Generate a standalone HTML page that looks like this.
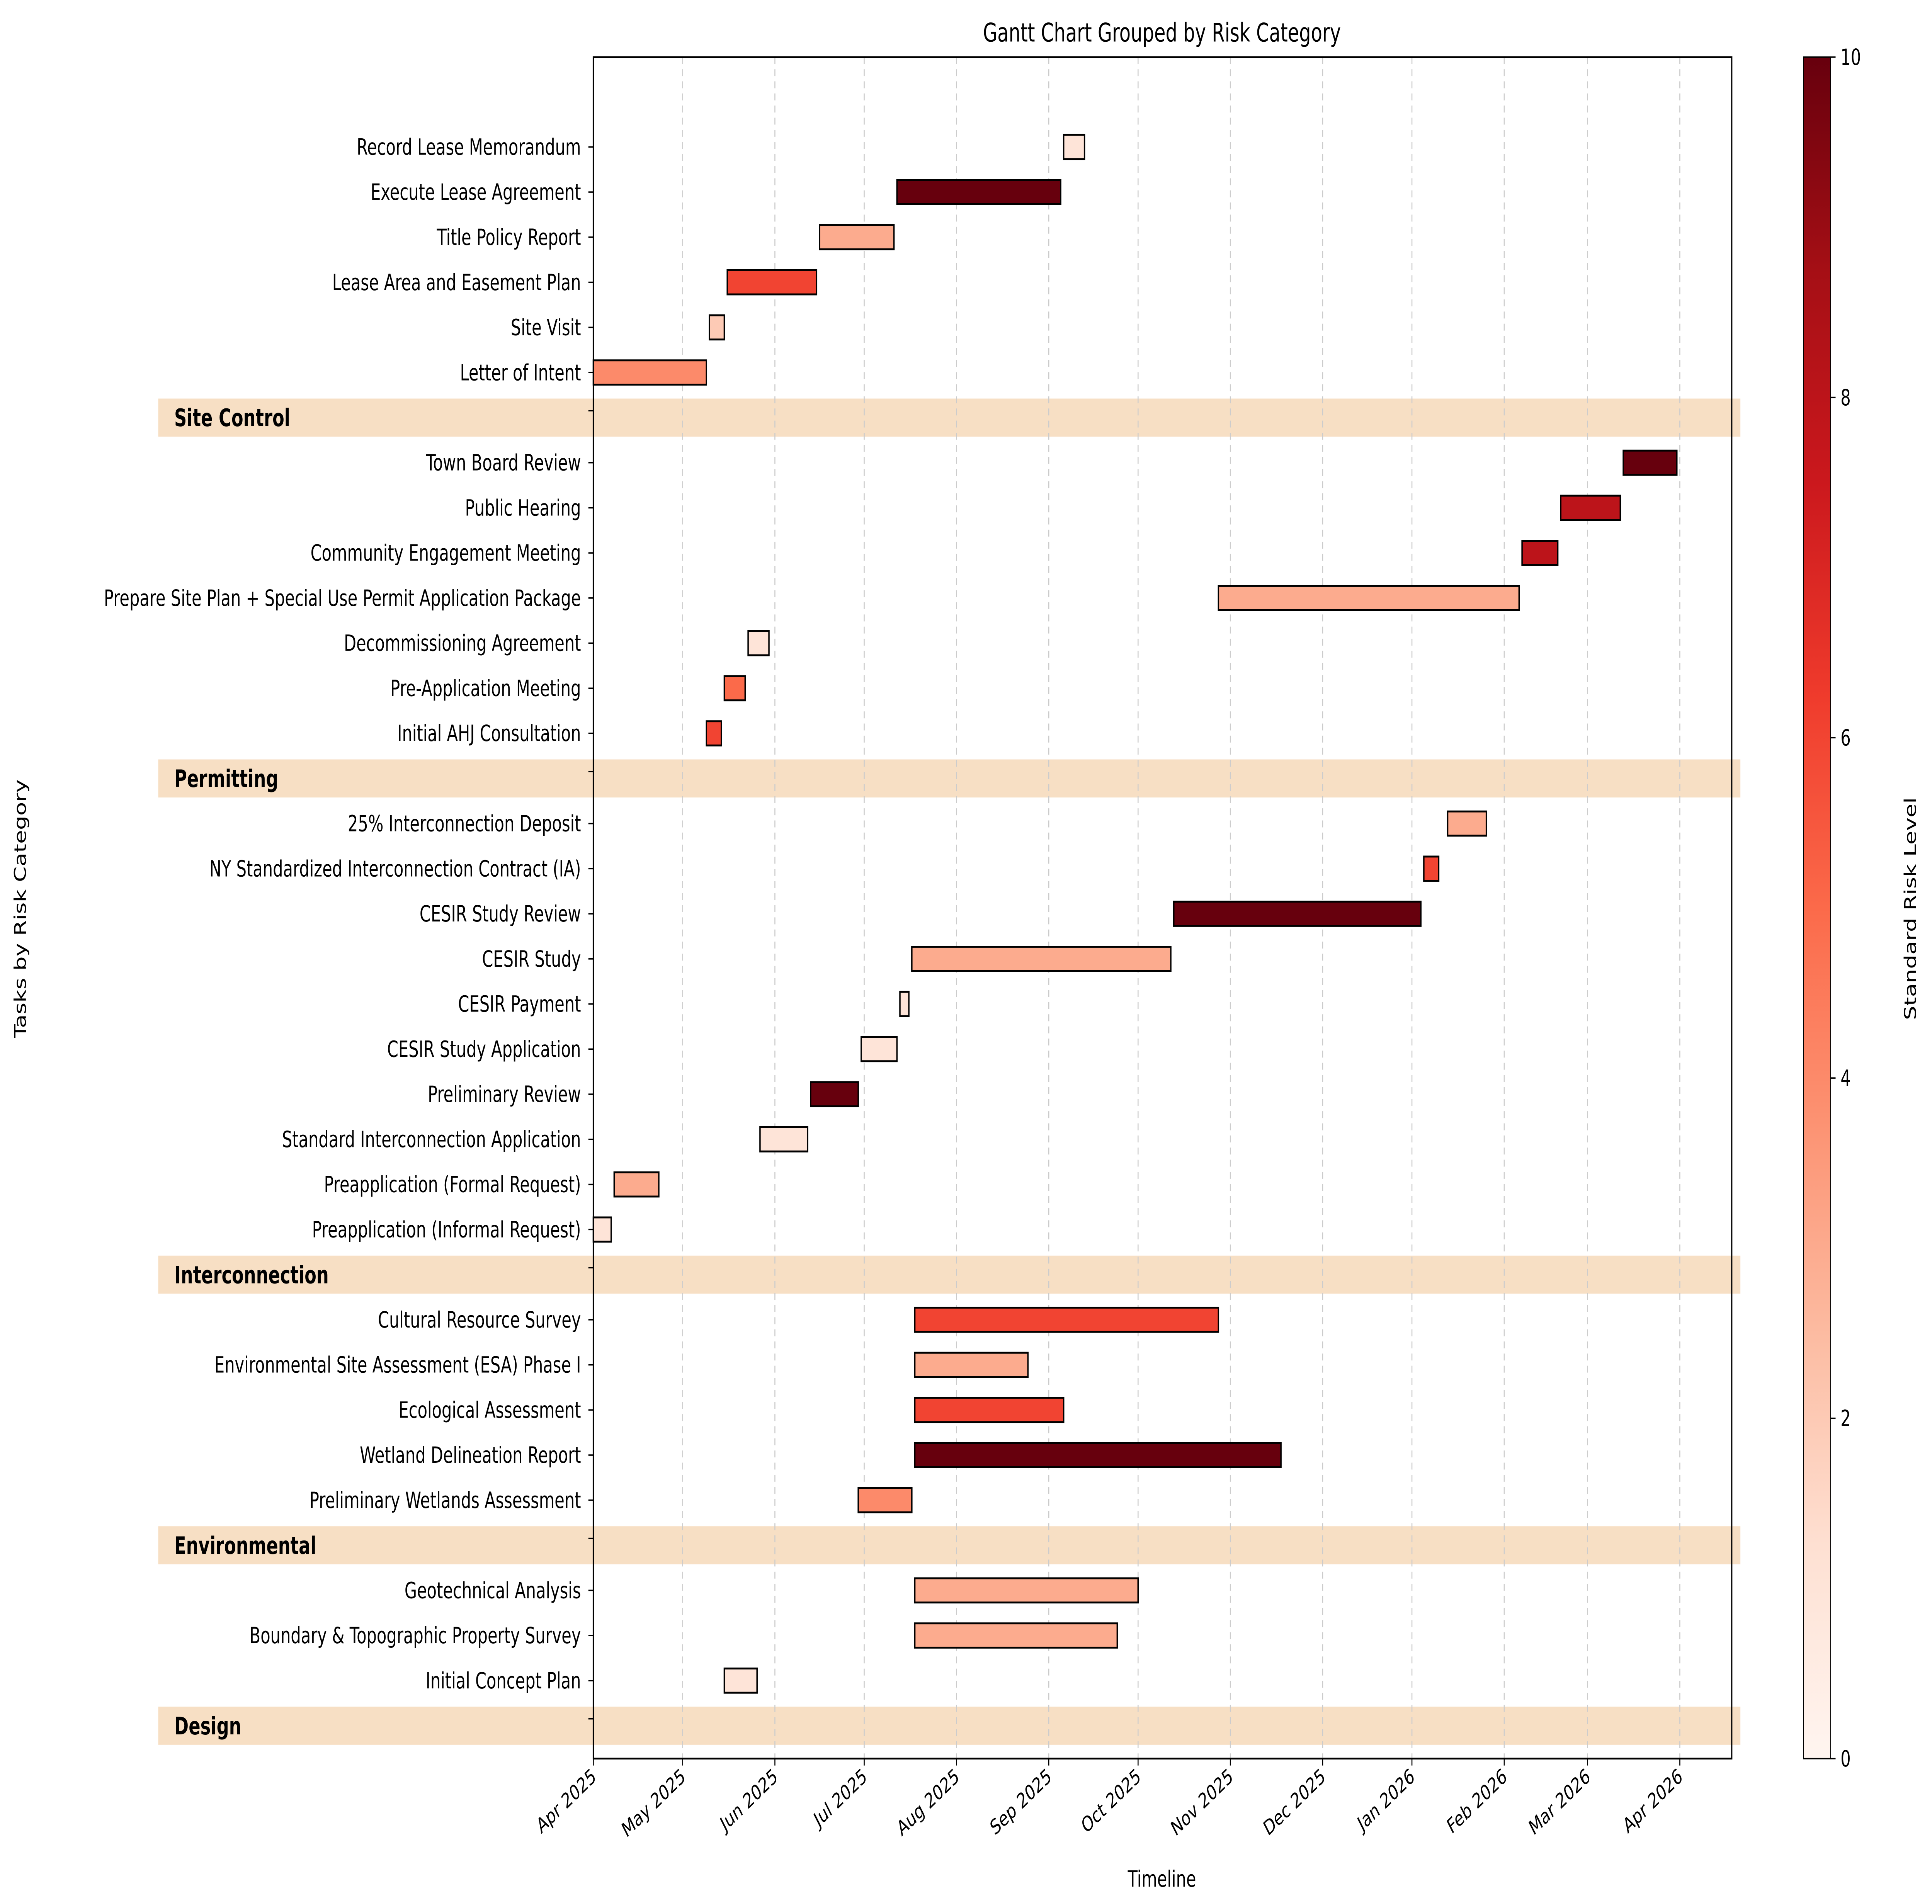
<!DOCTYPE html>
<html><head><meta charset="utf-8"><style>
html,body{margin:0;padding:0;background:#fff;width:100%;height:100%;overflow:hidden;}
svg{display:block;position:absolute;left:0;top:0;width:100vw;height:100vh;font-family:"DejaVu Sans","Liberation Sans",sans-serif;}
</style></head><body>
<svg id="chart" viewBox="0 0 1563 1100" preserveAspectRatio="none" xmlns="http://www.w3.org/2000/svg">
<defs>
<linearGradient id="reds" x1="0" y1="1" x2="0" y2="0">
<stop offset="0" stop-color="#fff5f0"/><stop offset="0.125" stop-color="#fee0d2"/><stop offset="0.25" stop-color="#fcbba1"/><stop offset="0.375" stop-color="#fc9272"/><stop offset="0.5" stop-color="#fb6a4a"/><stop offset="0.625" stop-color="#ef3b2c"/><stop offset="0.75" stop-color="#cb181d"/><stop offset="0.875" stop-color="#a50f15"/><stop offset="1" stop-color="#67000d"/>
</linearGradient>
</defs>
<rect width="1563" height="1100" fill="#fff"/>
<g id="bands"></g>
<g id="grid"></g>
<g id="bars"></g>
<rect x="480" y="33" width="921" height="983" fill="none" stroke="#000" stroke-width="1"/>
<g id="yaxis"></g>
<g id="xaxis"></g>
<text x="940" y="24" font-size="15" text-anchor="middle">Gantt Chart Grouped by Risk Category</text>
<text x="940" y="1090" font-size="13" text-anchor="middle">Timeline</text>
<text transform="translate(21,525) rotate(-90)" font-size="13" text-anchor="middle">Tasks by Risk Category</text>
<rect x="1459" y="33" width="22" height="983" fill="url(#reds)" stroke="#000" stroke-width="0.8"/>
<g id="cbar"></g>
<text transform="translate(1550,525) rotate(-90)" font-size="13" text-anchor="middle">Standard Risk Level</text>
</svg>
<script>
const categories = ["Design","Environmental","Interconnection","Permitting","Site Control"];
const taskNames = [
["Initial Concept Plan","Boundary & Topographic Property Survey","Geotechnical Analysis"],
["Preliminary Wetlands Assessment","Wetland Delineation Report","Ecological Assessment","Environmental Site Assessment (ESA) Phase I","Cultural Resource Survey"],
["Preapplication (Informal Request)","Preapplication (Formal Request)","Standard Interconnection Application","Preliminary Review","CESIR Study Application","CESIR Payment","CESIR Study","CESIR Study Review","NY Standardized Interconnection Contract (IA)","25% Interconnection Deposit"],
["Initial AHJ Consultation","Pre-Application Meeting","Decommissioning Agreement","Prepare Site Plan + Special Use Permit Application Package","Community Engagement Meeting","Public Hearing","Town Board Review"],
["Letter of Intent","Site Visit","Lease Area and Easement Plan","Title Policy Report","Execute Lease Agreement","Record Lease Memorandum"]
];
// start/end in days after Apr 1 2025
const startDays = [
[44,108,108],
[89,108,108,108,108],
[0,7,56,73,90,103,107,195,279,287],
[38,44,52,210,312,325,346],
[0,39,45,76,102,158]
];
const endDays = [
[55,176,183],
[107,231,158,146,210],
[6,22,72,89,102,106,194,278,284,300],
[43,51,59,311,324,345,364],
[38,44,75,101,157,165]
];
const riskLevels = [
[1,3,3],
[4,10,6,3,6],
[1,3,1,10,1,1,3,10,6,3],
[6,5,1,3,8,8,10],
[4,2,6,3,10,1]
];
const monthLabels = ["Apr 2025","May 2025","Jun 2025","Jul 2025","Aug 2025","Sep 2025","Oct 2025","Nov 2025","Dec 2025","Jan 2026","Feb 2026","Mar 2026","Apr 2026"];
const monthDays = [0,30,61,91,122,153,183,214,245,275,306,334,365];
const cbarTicks = [0,2,4,6,8,10];

const NS="http://www.w3.org/2000/svg";
const X0=480, PX_PER_DAY=879/365;
function xs(d){return X0+d*PX_PER_DAY;}
function ys(i){return 997-26.06*i;}
function cy(v){return 1016-v/10*983;}
const stops=[[255,245,240],[254,224,210],[252,187,161],[252,146,114],[251,106,74],[239,59,44],[203,24,29],[165,15,21],[103,0,13]];
function cmap(v){let t=Math.max(0,Math.min(1,v/10))*8;let i=Math.min(7,Math.floor(t));let f=t-i;
 const c=stops[i].map((a,k)=>Math.round(a+(stops[i+1][k]-a)*f));return `rgb(${c})`;}
function mk(tag,attrs,parent,text){const e=document.createElementNS(NS,tag);for(const k in attrs)e.setAttribute(k,attrs[k]);if(text!==undefined)e.textContent=text;parent.appendChild(e);return e;}
const gB=document.getElementById('bands'),gG=document.getElementById('grid'),gR=document.getElementById('bars'),gY=document.getElementById('yaxis'),gX=document.getElementById('xaxis'),gC=document.getElementById('cbar');

monthDays.forEach((d,i)=>{
 const x=xs(d);
 const l=mk('line',{x1:x,x2:x,y1:33,y2:1016,stroke:'#cccccc','stroke-width':0.8,'stroke-dasharray':'4,3'},gG);
 
 
 mk('line',{x1:x,x2:x,y1:1016,y2:1020,stroke:'#000','stroke-width':0.8},gX);
 const t=mk('text',{x:x+3,y:1028,'font-size':12,'text-anchor':'end',transform:`rotate(-35 ${x+3} 1028)`},gX,monthLabels[i]);
 
 
});

let row=0;
categories.forEach((cat,ci)=>{
 const yh=ys(row);
 const b=mk('rect',{x:128,y:yh-11,width:1280,height:22,fill:'#f7dfc4'},gB);
 
 
 mk('line',{x1:476,x2:480,y1:yh-4,y2:yh-4,stroke:'#000','stroke-width':0.8},gY);
 const th=mk('text',{x:141,y:yh+5,'font-size':14,'font-weight':'bold'},gY,cat);
 
 
 row++;
 taskNames[ci].forEach((name,ti)=>{
  const y=ys(row);
  const s=startDays[ci][ti], e=endDays[ci][ti];
  const r=mk('rect',{x:xs(s),y:y-7,width:xs(e)-xs(s),height:14,fill:cmap(riskLevels[ci][ti]),stroke:'#000','stroke-width':1.1},gR);
  
  
  mk('line',{x1:476,x2:480,y1:y,y2:y,stroke:'#000','stroke-width':0.8},gY);
  const t=mk('text',{x:470,y:y+4.5,'font-size':13,'text-anchor':'end'},gY,name);
  
  
  row++;
 });
});

cbarTicks.forEach(v=>{
 const y=cy(v);
 mk('line',{x1:1481,x2:1485,y1:y,y2:y,stroke:'#000','stroke-width':0.8},gC);
 const t=mk('text',{x:1489,y:y+4.5,'font-size':13},gC,String(v));
 
 
});
</script>
</body></html>
